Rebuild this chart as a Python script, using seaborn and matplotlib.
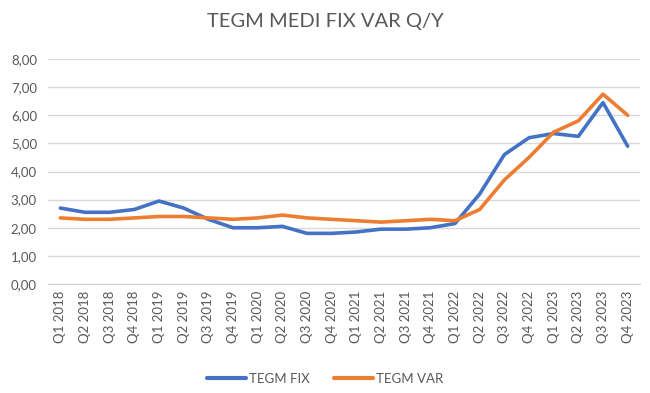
import numpy as np
import pandas as pd
import matplotlib
matplotlib.use("Agg")
import matplotlib.pyplot as plt
import seaborn as sns

quarters = [f"Q{q} {y}" for y in range(2018, 2024) for q in range(1, 5)]
tegm_fix = [2.70, 2.55, 2.55, 2.65, 2.95, 2.70, 2.30, 2.00, 2.00, 2.05, 1.80, 1.80,
            1.85, 1.95, 1.95, 2.00, 2.15, 3.20, 4.60, 5.20, 5.35, 5.25, 6.45, 4.90]
tegm_var = [2.35, 2.30, 2.30, 2.35, 2.40, 2.40, 2.35, 2.30, 2.35, 2.45, 2.35, 2.30,
            2.25, 2.20, 2.25, 2.30, 2.25, 2.65, 3.70, 4.50, 5.40, 5.80, 6.75, 6.00]
series_names = ["TEGM FIX", "TEGM VAR"]
yticks = np.arange(0, 9, 1)

df = pd.DataFrame({
    "quarter": quarters * 2,
    "x": list(range(len(quarters))) * 2,
    "value": tegm_fix + tegm_var,
    "series": [series_names[0]] * len(quarters) + [series_names[1]] * len(quarters),
})

sns.set_style("white")
plt.rcParams["font.family"] = ["Lato", "DejaVu Sans"]
grey = "#595959"

fig = plt.figure(figsize=(6.5, 3.93), dpi=100)
ax = fig.add_axes([48 / 650, 1 - 284 / 393, 592 / 650, 225 / 393])

sns.lineplot(data=df, x="x", y="value", hue="series",
             palette={"TEGM FIX": "#4472C4", "TEGM VAR": "#ED7D31"},
             linewidth=2.6, ax=ax, legend=True, sort=False)

n = len(quarters)
ax.set_xlim(-0.5, n - 0.5)
ax.set_ylim(0, 8)
ax.set_yticks(yticks)
ax.set_yticklabels([f"{v:.2f}".replace(".", ",") for v in yticks], color=grey, fontsize=9.5)
ax.set_xticks(range(n))
ax.set_xticklabels(quarters, rotation=90, color=grey, fontsize=9.5)
ax.set_xticks(np.arange(-0.5, n, 1), minor=True)
ax.tick_params(axis="x", which="major", length=0, pad=5)
ax.tick_params(axis="x", which="minor", length=5, color="#d0d0d0", direction="out")
ax.tick_params(axis="y", length=0, pad=8)
ax.grid(axis="y", color="#d9d9d9", linewidth=1)
ax.set_axisbelow(True)
for s in ["top", "right", "left"]:
    ax.spines[s].set_visible(False)
ax.spines["bottom"].set_color("#d0d0d0")
ax.set_xlabel("")
ax.set_ylabel("")

fig.suptitle("TEGM MEDI FIX VAR Q/Y", x=0.5, y=1 - 22 / 393, fontsize=14.5, color=grey, va="center")

handles, labels = ax.get_legend_handles_labels()
for h in handles:
    h.set_linewidth(3)
ax.legend(handles, labels, loc="center", bbox_to_anchor=(0.5, 14 / 393), bbox_transform=fig.transFigure,
          ncol=2, frameon=False, fontsize=9.5, labelcolor=grey, handlelength=3.0, columnspacing=1.8,
          handletextpad=0.2)

fig.savefig("out.png", dpi=100)
